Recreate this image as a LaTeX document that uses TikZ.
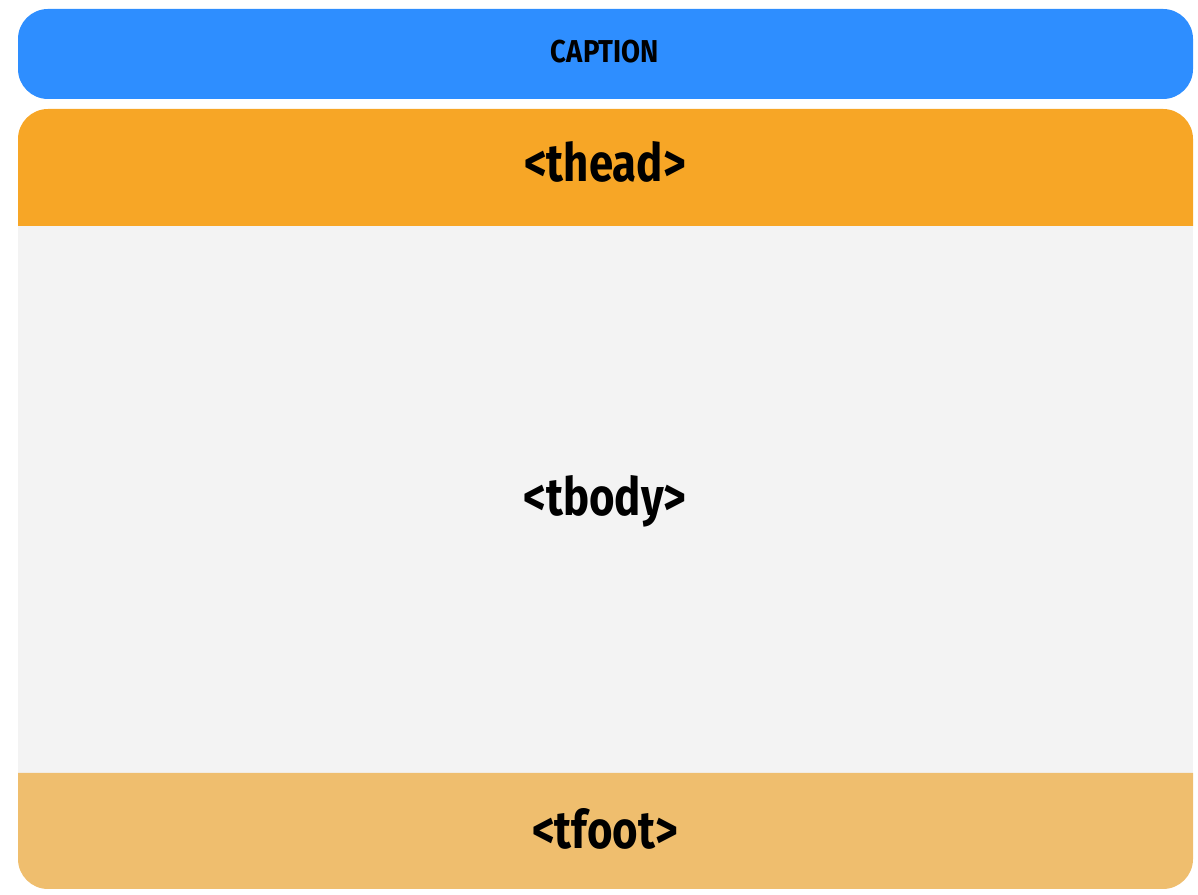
\documentclass[tikz,border=0pt]{standalone}
\usepackage{fontspec}
\setmainfont{Fira Sans}
\newfontfamily\tagfont[FakeStretch=0.83]{Fira Sans}
\newfontfamily\capfont[FakeStretch=0.87]{Fira Sans}
\usetikzlibrary{positioning,calc}
\definecolor{capblue}{HTML}{2E8EFF}
\definecolor{headorange}{HTML}{F7A626}
\definecolor{bodygray}{HTML}{F3F3F3}
\definecolor{footsand}{HTML}{EFBE6E}
\begin{document}
\begin{tikzpicture}[
  tag/.style={font=\tagfont\bfseries\fontsize{30}{32}\selectfont, text=black, inner sep=0pt},
  captag/.style={font=\capfont\bfseries\fontsize{18}{20}\selectfont, text=black, inner sep=0pt}
]
  \useasboundingbox (0,0) rectangle (23.96,17.9);

  % Caption bar
  \fill[capblue, rounded corners=0.6cm] (0.36,15.92) rectangle (23.86,17.72);

  % Table head
  \fill[headorange] (0.36,13.38) [rounded corners=0.6cm] -- (0.36,15.72) -- (23.86,15.72) [sharp corners] -- (23.86,13.38) -- cycle;

  % Table body
  \fill[bodygray] (0.36,2.44) rectangle (23.86,13.38);

  % Table foot
  \fill[footsand] (0.36,2.44) [rounded corners=0.6cm] -- (0.36,0.12) -- (23.86,0.12) [sharp corners] -- (23.86,2.44) -- cycle;

  % Labels
  \node[captag] (caption) at (12.1,16.86) {CAPTION};
  \node[tag] (thead) at (12.1,14.66) {<thead>};
  \node[tag] (tbody) at (12.1,7.88) {<tbody>};
  \node[tag] (tfoot) at (12.1,1.32) {<tfoot>};
\end{tikzpicture}
\end{document}
